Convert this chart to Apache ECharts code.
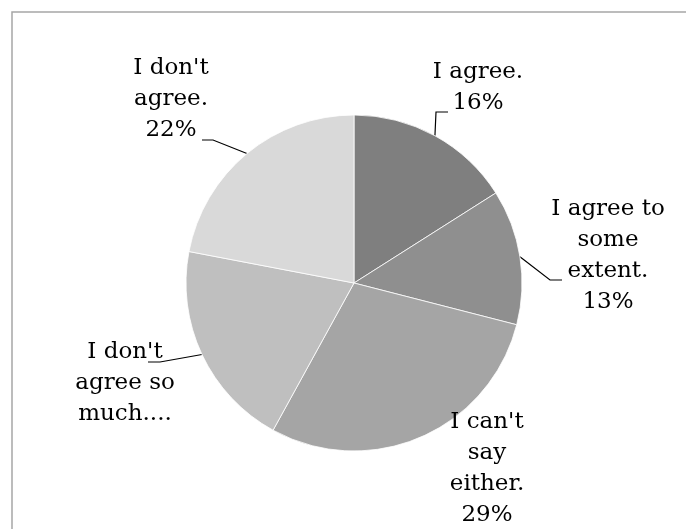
<!DOCTYPE html>
<html>
<head>
<meta charset="utf-8">
<script src="https://cdn.jsdelivr.net/npm/echarts@6/dist/echarts.min.js"></script>
<style>
  html, body { margin: 0; padding: 0; background: #ffffff; overflow: hidden; }
  #chart { width: 686px; height: 529px; }
</style>
</head>
<body>
<div id="chart"></div>
<script>
// Survey answers, clockwise from 12 o'clock
const categories = ["I agree.", "I agree to some extent.", "I can't say either.", "I don't agree so much.", "I don't agree."];
const values = [16, 13, 29, 20, 22];
// Label text as it is wrapped on the chart
const labelText = ["I agree.", "I agree to\nsome\nextent.", "I can't\nsay\neither.", "I don't\nagree so\nmuch....", "I don't\nagree."];
const showPercent = [true, true, true, false, true];
const sliceColors = ["#7f7f7f", "#8f8f8f", "#a5a5a5", "#bfbfbf", "#d9d9d9"];

// Where each label block sits and how its leader line bends
const labelPlacement = [
  { x: 478, y: 88,  bend: [[436, 112], [448, 112]] },
  { x: 608, y: 256, bend: [[550, 280], [562, 280]] },
  { x: 487, y: 469, bend: null },
  { x: 125, y: 383, bend: [[160, 362], [148, 362]] },
  { x: 171, y: 99,  bend: [[213, 140], [202, 140]] }
];

const chart = echarts.init(document.getElementById('chart'), null, { renderer: 'canvas' });

const data = categories.map((name, i) => ({
  name: name,
  value: values[i],
  itemStyle: { color: sliceColors[i] },
  labelLine: { show: labelPlacement[i].bend !== null }
}));

chart.setOption({
  backgroundColor: '#ffffff',
  animation: false,
  graphic: [{
    // chart-area frame: only its top and left edges fall inside the view
    type: 'polyline',
    shape: { points: [[12, 540], [12, 12], [700, 12]] },
    style: { fill: null, stroke: '#a6a6a6', lineWidth: 1.5 },
    silent: true
  }],
  series: [{
    type: 'pie',
    center: [354, 283],
    radius: [0, 168],
    startAngle: 90,
    clockwise: true,
    avoidLabelOverlap: false,
    data: data,
    itemStyle: { borderColor: '#ffffff', borderWidth: 0.8 },
    label: {
      show: true,
      position: 'outside',
      fontFamily: 'DejaVu Serif',
      fontSize: 23,
      lineHeight: 31,
      color: '#000000',
      align: 'center',
      formatter: function (p) {
        const i = p.dataIndex;
        return labelText[i] + (showPercent[i] ? '\n' + Math.round(p.percent) + '%' : '');
      }
    },
    labelLine: {
      show: true,
      lineStyle: { color: '#000000', width: 1.2 }
    },
    labelLayout: function (params) {
      const place = labelPlacement[params.dataIndex];
      const out = { x: place.x, y: place.y, align: 'center', verticalAlign: 'middle' };
      if (place.bend && params.labelLinePoints) {
        out.labelLinePoints = [params.labelLinePoints[0]].concat(place.bend);
      }
      return out;
    }
  }]
});
</script>
</body>
</html>
